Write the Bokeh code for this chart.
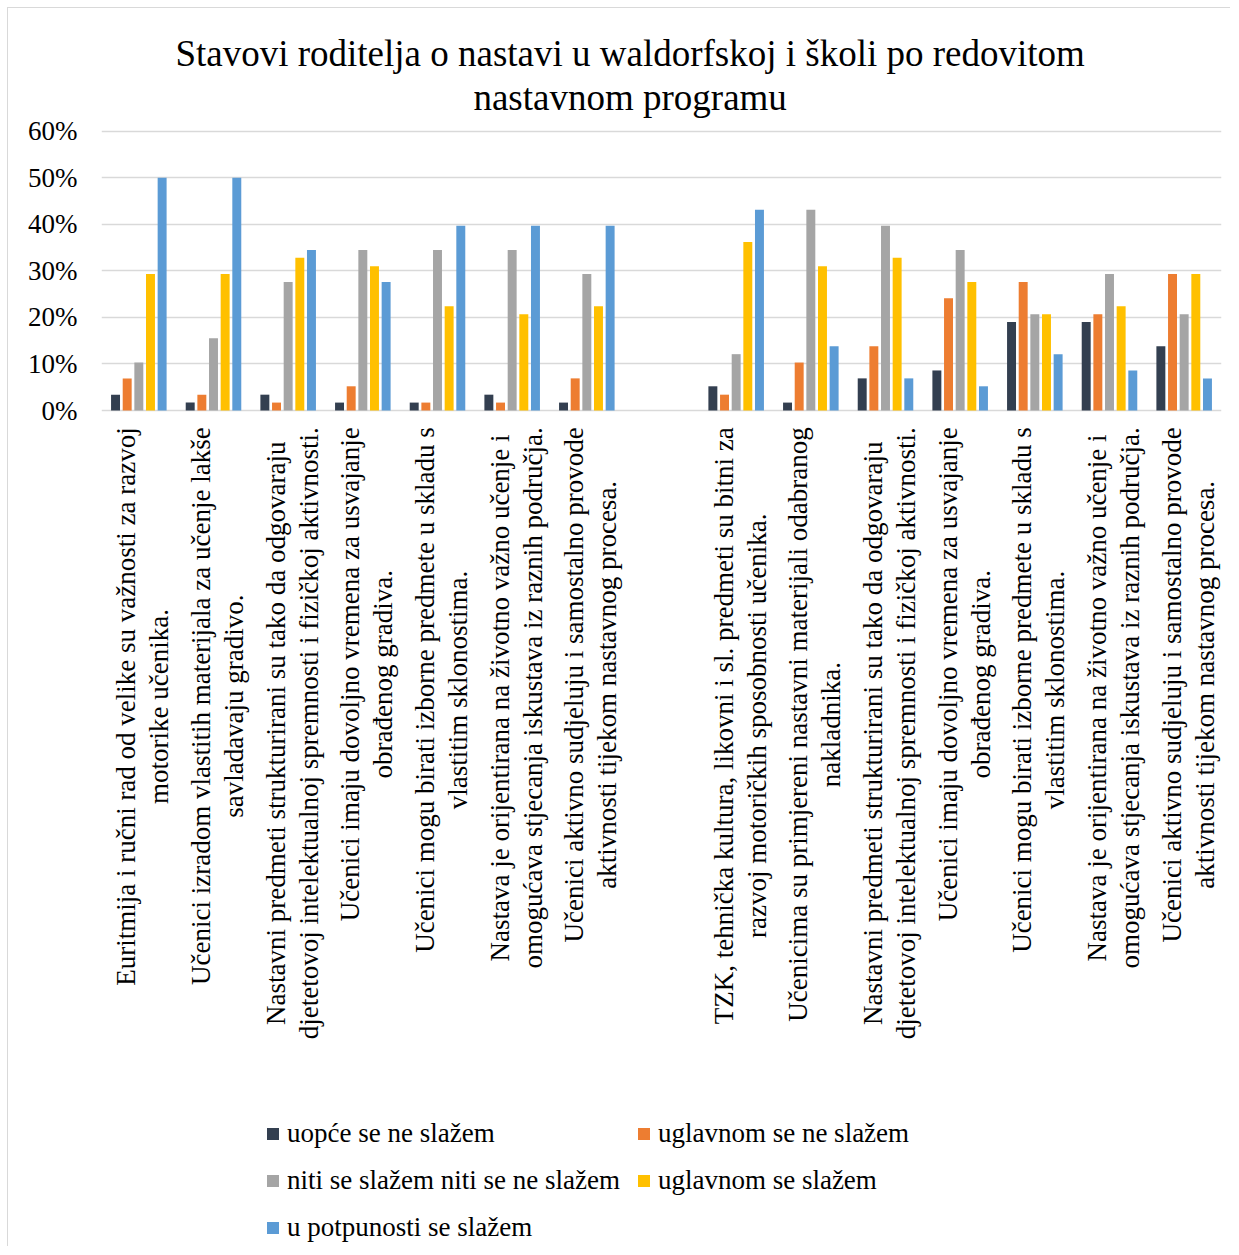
import math
import numpy as np
from bokeh.plotting import figure
from bokeh.models import Range1d, FixedTicker, PrintfTickFormatter, ColumnDataSource
from bokeh.core.properties import value
from bokeh.embed import file_html
from bokeh.resources import INLINE

# ---------------- data ----------------
title_lines = [
    "Stavovi roditelja o nastavi u waldorfskoj i školi po redovitom",
    "nastavnom programu",
]

categories = [
    "Euritmija i ručni rad od velike su važnosti za razvoj\nmotorike učenika.",
    "Učenici izradom vlastitih materijala za učenje lakše\nsavladavaju gradivo.",
    "Nastavni predmeti strukturirani su tako da odgovaraju\ndjetetovoj intelektualnoj spremnosti i fizičkoj aktivnosti.",
    "Učenici imaju dovoljno vremena za usvajanje\nobrađenog gradiva.",
    "Učenici mogu birati izborne predmete u skladu s\nvlastitim sklonostima.",
    "Nastava je orijentirana na životno važno učenje i\nomogućava stjecanja iskustava iz raznih područja.",
    "Učenici aktivno sudjeluju i samostalno provode\naktivnosti tijekom nastavnog procesa.",
    "",
    "TZK, tehnička kultura, likovni i sl. predmeti su bitni za\nrazvoj motoričkih sposobnosti učenika.",
    "Učenicima su primjereni nastavni materijali odabranog\nnakladnika.",
    "Nastavni predmeti strukturirani su tako da odgovaraju\ndjetetovoj intelektualnoj spremnosti i fizičkoj aktivnosti.",
    "Učenici imaju dovoljno vremena za usvajanje\nobrađenog gradiva.",
    "Učenici mogu birati izborne predmete u skladu s\nvlastitim sklonostima.",
    "Nastava je orijentirana na životno važno učenje i\nomogućava stjecanja iskustava iz raznih područja.",
    "Učenici aktivno sudjeluju i samostalno provode\naktivnosti tijekom nastavnog procesa.",
]

series_names = [
    "uopće se ne slažem",
    "uglavnom se ne slažem",
    "niti se slažem niti se ne slažem",
    "uglavnom se slažem",
    "u potpunosti se slažem",
]
colors = ["#333F50", "#ED7D31", "#A5A5A5", "#FFC000", "#5B9BD5"]

uopce_ne = [3.4, 1.7, 3.4, 1.7, 1.7, 3.4, 1.7, None, 5.2, 1.7, 6.9, 8.6, 19.0, 19.0, 13.8]
uglavnom_ne = [6.9, 3.4, 1.7, 5.2, 1.7, 1.7, 6.9, None, 3.4, 10.3, 13.8, 24.1, 27.6, 20.7, 29.3]
niti_niti = [10.3, 15.5, 27.6, 34.5, 34.5, 34.5, 29.3, None, 12.1, 43.1, 39.7, 34.5, 20.7, 29.3, 20.7]
uglavnom_da = [29.3, 29.3, 32.8, 31.0, 22.4, 20.7, 22.4, None, 36.2, 31.0, 32.8, 27.6, 20.7, 22.4, 29.3]
potpuno_da = [50.0, 50.0, 34.5, 27.6, 39.7, 39.7, 39.7, None, 43.1, 13.8, 6.9, 5.2, 12.1, 8.6, 6.9]
series = [uopce_ne, uglavnom_ne, niti_niti, uglavnom_da, potpuno_da]

y_ticks = [0, 10, 20, 30, 40, 50, 60]

# ---------------- layout ----------------
FONT = "Liberation Serif"
W, H = 1223, 1239
PX_PER_PCT = 279.33 / 60.0
ZERO_PX = 402.0                      # figure-pixel row of the 0 % line
y_top = ZERO_PX / PX_PER_PCT
y_bot = -(H - ZERO_PX) / PX_PER_PCT

n = len(categories)
p = figure(
    width=W, height=H,
    x_range=Range1d(0, n), y_range=Range1d(y_bot, y_top),
    output_backend="svg", toolbar_location=None, x_axis_location=None,
    min_border_left=93, min_border_right=10, min_border_top=0, min_border_bottom=0,
    outline_line_color=None, background_fill_color="white", border_fill_color="white",
)
p.styles = {"border-left": "1px solid #d9d9d9", "border-top": "1px solid #d9d9d9",
            "margin-left": "7px", "margin-top": "7px"}

xs = np.arange(n) + 0.5
STEP = 0.156
BAR_W = 0.12
for k, (name, vals, col) in enumerate(zip(series_names, series, colors)):
    src = ColumnDataSource(dict(x=xs + (k - 2) * STEP, top=np.array(vals, dtype=float)))
    p.vbar(x="x", top="top", bottom=0, width=BAR_W, source=src,
           fill_color=col, line_color=None, legend_label=name)

# category labels (rotated, multi-line, centred lines, anchored at top)
lab_src = ColumnDataSource(dict(x=xs, y=[-3.6] * n, text=categories))
p.text(x="x", y="y", text="text", source=lab_src, angle=math.pi / 2,
       anchor=value("center_right"), text_align="center", text_baseline="middle",
       text_font=value(FONT), text_font_size="27px", text_line_height=1.1,
       text_color="#000000", x_offset=4)

# title
t_src = ColumnDataSource(dict(x=[7.08, 7.08],
                              y=[(ZERO_PX - 45) / PX_PER_PCT, (ZERO_PX - 89) / PX_PER_PCT],
                              text=title_lines))
p.text(x="x", y="y", text="text", source=t_src, text_align="center", text_baseline="middle",
       text_font=value(FONT), text_font_size="37px", text_color="#000000")

# axes / grid
p.yaxis.ticker = FixedTicker(ticks=y_ticks)
p.yaxis.formatter = PrintfTickFormatter(format="%d%%")
p.yaxis.axis_line_color = None
p.yaxis.major_tick_line_color = None
p.yaxis.minor_tick_line_color = None
p.yaxis.major_tick_out = 0
p.yaxis.major_tick_in = 0
p.yaxis.major_label_standoff = 24
p.yaxis.major_label_text_font = FONT
p.yaxis.major_label_text_font_size = "27px"
p.yaxis.major_label_text_color = "#000000"

p.ygrid.ticker = FixedTicker(ticks=y_ticks)
p.ygrid.grid_line_color = "#d9d9d9"
p.ygrid.grid_line_width = 1.3
p.xgrid.visible = False

# legend
leg = p.legend[0]
leg.location = (164, 4)
leg.orientation = "horizontal"
leg.ncols = 2
leg.label_text_font = FONT
leg.label_text_font_size = "27px"
leg.label_text_color = "#000000"
leg.glyph_width = 15
leg.glyph_height = 15
leg.label_standoff = 7
leg.spacing = 16
leg.padding = 0
leg.margin = 0
leg.border_line_color = None
leg.background_fill_alpha = 0

open("out.html", "w").write(file_html(p, INLINE))
